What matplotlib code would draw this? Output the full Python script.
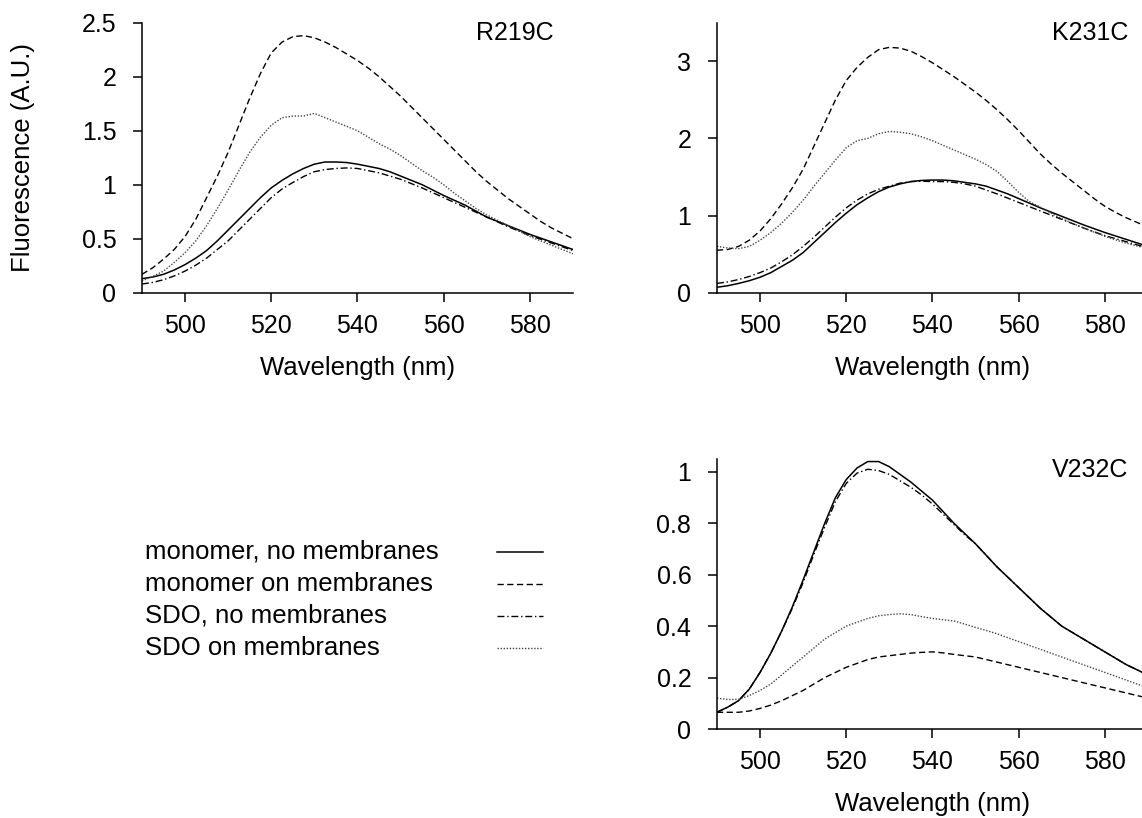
import numpy as np
import matplotlib
matplotlib.use("Agg")
import matplotlib.pyplot as plt
from matplotlib.lines import Line2D

plt.rcParams['font.family'] = ['Liberation Sans', 'DejaVu Sans']

# wavelength grid (nm), every 2.5 nm from 490 to 590
wl = np.arange(490, 590.1, 2.5)

# R219C
r219_mono = [0.13, 0.145, 0.17, 0.21, 0.26, 0.32, 0.39, 0.48, 0.58, 0.68,
             0.78, 0.88, 0.97, 1.04, 1.10, 1.15, 1.19, 1.21, 1.21, 1.205,
             1.19, 1.17, 1.15, 1.12, 1.08, 1.04, 1.00, 0.95, 0.90, 0.855,
             0.81, 0.755, 0.70, 0.66, 0.62, 0.58, 0.54, 0.505, 0.47, 0.435, 0.40]
r219_mono_mem = [0.17, 0.23, 0.31, 0.40, 0.52, 0.68, 0.88, 1.08, 1.30, 1.55,
                 1.80, 2.03, 2.22, 2.32, 2.37, 2.38, 2.36, 2.32, 2.27, 2.21,
                 2.15, 2.08, 2.00, 1.91, 1.82, 1.72, 1.62, 1.52, 1.42, 1.32,
                 1.22, 1.12, 1.03, 0.95, 0.87, 0.80, 0.73, 0.66, 0.60, 0.55, 0.50]
r219_sdo = [0.08, 0.095, 0.12, 0.155, 0.20, 0.255, 0.32, 0.40, 0.48, 0.58,
            0.68, 0.78, 0.88, 0.96, 1.02, 1.075, 1.12, 1.14, 1.15, 1.155,
            1.15, 1.13, 1.11, 1.08, 1.05, 1.01, 0.97, 0.925, 0.88, 0.835,
            0.79, 0.745, 0.70, 0.655, 0.61, 0.57, 0.53, 0.495, 0.46, 0.425, 0.39]
r219_sdo_mem = [0.11, 0.15, 0.20, 0.28, 0.37, 0.48, 0.62, 0.78, 0.95, 1.13,
                1.30, 1.44, 1.55, 1.62, 1.635, 1.635, 1.66, 1.62, 1.58, 1.54,
                1.50, 1.44, 1.38, 1.33, 1.27, 1.20, 1.13, 1.07, 1.00, 0.92,
                0.85, 0.78, 0.72, 0.67, 0.62, 0.57, 0.52, 0.48, 0.44, 0.40, 0.36]

# K231C
k231_mono = [0.07, 0.09, 0.12, 0.155, 0.20, 0.26, 0.34, 0.42, 0.52, 0.65,
             0.78, 0.91, 1.03, 1.14, 1.23, 1.31, 1.37, 1.41, 1.44, 1.455,
             1.46, 1.46, 1.45, 1.43, 1.41, 1.38, 1.33, 1.28, 1.22, 1.16,
             1.10, 1.045, 0.99, 0.935, 0.88, 0.83, 0.78, 0.735, 0.69, 0.645, 0.60]
k231_mono_mem = [0.55, 0.56, 0.60, 0.68, 0.80, 0.96, 1.15, 1.36, 1.60, 1.90,
                 2.20, 2.50, 2.75, 2.92, 3.05, 3.15, 3.18, 3.17, 3.13, 3.06,
                 2.98, 2.89, 2.80, 2.70, 2.60, 2.49, 2.37, 2.24, 2.10, 1.95,
                 1.80, 1.67, 1.55, 1.44, 1.33, 1.22, 1.12, 1.04, 0.97, 0.91, 0.85]
k231_sdo = [0.12, 0.14, 0.17, 0.21, 0.26, 0.32, 0.40, 0.49, 0.60, 0.72,
            0.85, 0.98, 1.10, 1.20, 1.28, 1.34, 1.38, 1.42, 1.44, 1.445,
            1.44, 1.44, 1.43, 1.41, 1.38, 1.33, 1.28, 1.225, 1.17, 1.115,
            1.06, 1.005, 0.95, 0.895, 0.84, 0.79, 0.74, 0.70, 0.66, 0.62, 0.58]
k231_sdo_mem = [0.60, 0.58, 0.57, 0.60, 0.68, 0.78, 0.90, 1.04, 1.20, 1.38,
                1.55, 1.72, 1.88, 1.97, 2.00, 2.06, 2.09, 2.08, 2.06, 2.02,
                1.97, 1.91, 1.85, 1.79, 1.73, 1.66, 1.57, 1.44, 1.30, 1.18,
                1.11, 1.03, 0.96, 0.90, 0.84, 0.785, 0.73, 0.685, 0.64, 0.605, 0.57]

# V232C
v232_mono = [0.065, 0.085, 0.11, 0.155, 0.22, 0.295, 0.38, 0.475, 0.58, 0.69,
             0.80, 0.90, 0.97, 1.015, 1.04, 1.04, 1.02, 0.99, 0.96, 0.925,
             0.89, 0.845, 0.80, 0.76, 0.72, 0.675, 0.63, 0.59, 0.55, 0.51,
             0.47, 0.435, 0.40, 0.375, 0.35, 0.325, 0.30, 0.275, 0.25, 0.23, 0.21]
v232_mono_mem = [0.065, 0.065, 0.065, 0.07, 0.08, 0.093, 0.11, 0.13, 0.15, 0.175,
                 0.20, 0.22, 0.24, 0.255, 0.27, 0.28, 0.285, 0.29, 0.295, 0.298,
                 0.30, 0.296, 0.29, 0.285, 0.28, 0.27, 0.26, 0.25, 0.24, 0.23,
                 0.22, 0.21, 0.20, 0.19, 0.18, 0.17, 0.16, 0.15, 0.14, 0.13, 0.12]
v232_sdo = [0.065, 0.085, 0.11, 0.155, 0.22, 0.295, 0.38, 0.47, 0.57, 0.68,
            0.785, 0.885, 0.955, 0.995, 1.01, 1.005, 0.99, 0.965, 0.94, 0.91,
            0.875, 0.835, 0.795, 0.755, 0.72, 0.675, 0.63, 0.59, 0.55, 0.51,
            0.47, 0.435, 0.40, 0.375, 0.35, 0.325, 0.30, 0.275, 0.25, 0.23, 0.21]
v232_sdo_mem = [0.12, 0.115, 0.115, 0.13, 0.15, 0.175, 0.21, 0.245, 0.28, 0.315,
                0.35, 0.375, 0.40, 0.415, 0.43, 0.44, 0.445, 0.448, 0.445, 0.437,
                0.43, 0.425, 0.42, 0.408, 0.395, 0.383, 0.37, 0.355, 0.34, 0.325,
                0.31, 0.295, 0.28, 0.265, 0.25, 0.235, 0.22, 0.205, 0.19, 0.175, 0.16]

labels = ['monomer, no membranes', 'monomer on membranes',
          'SDO, no membranes', 'SDO on membranes']
styles = [dict(ls='-', lw=1.1, color='black'),
          dict(ls=(0, (4.5, 2.5)), lw=1.0, color='black'),
          dict(ls=(0, (5, 2, 1, 2)), lw=1.0, color='black'),
          dict(ls=(0, (1, 1.2)), lw=1.0, color='#444444')]

panels = [
    ('R219C', [r219_mono, r219_mono_mem, r219_sdo, r219_sdo_mem], 2.5,
     [0, 0.5, 1, 1.5, 2, 2.5], ['0', '0.5', '1', '1.5', '2', '2.5']),
    ('K231C', [k231_mono, k231_mono_mem, k231_sdo, k231_sdo_mem], 3.5,
     [0, 1, 2, 3], ['0', '1', '2', '3']),
    ('V232C', [v232_mono, v232_mono_mem, v232_sdo, v232_sdo_mem], 1.05,
     [0, 0.2, 0.4, 0.6, 0.8, 1], ['0', '0.2', '0.4', '0.6', '0.8', '1']),
]
positions = [[0.1243, 0.6422, 0.3774, 0.3301],
             [0.6278, 0.6422, 0.3774, 0.3301],
             [0.6278, 0.1088, 0.3774, 0.3301]]

fig = plt.figure(figsize=(11.42, 8.18), dpi=100)

for (name, series, ytop, yt, ytl), pos in zip(panels, positions):
    ax = fig.add_axes(pos)
    for s, st in zip(series, styles):
        ax.plot(wl, s, **st)
    ax.set_xlim(490, 590)
    ax.set_ylim(0, ytop)
    ax.set_xticks([500, 520, 540, 560, 580])
    ax.set_yticks(yt)
    ax.set_yticklabels(ytl)
    for sp in ['top', 'right']:
        ax.spines[sp].set_visible(False)
    for sp in ['left', 'bottom']:
        ax.spines[sp].set_linewidth(1.1)
    ax.tick_params(direction='out', length=6.5, width=1.1, labelsize=18)
    ax.tick_params(axis='x', pad=8.5)
    ax.tick_params(axis='y', pad=12)
    ax.set_xlabel('Wavelength (nm)', fontsize=18.5)
    ax.xaxis.set_label_coords(0.5, -0.233)
    ax.text(0.955, 0.96, name, transform=ax.transAxes, ha='right', va='center',
            fontsize=18)

fig.text(23 / 1142, 1 - 157.7 / 818, 'Fluorescence (A.U.)', rotation=90,
         ha='center', va='center', fontsize=18.5)

# legend drawn in figure pixel coordinates
lax = fig.add_axes([0, 0, 1, 1])
lax.set_xlim(0, 1142)
lax.set_ylim(818, 0)
lax.axis('off')
for i, (lab, st) in enumerate(zip(labels, styles)):
    yy = 552 + 32 * i
    lax.text(145, yy, lab, ha='left', va='center', fontsize=18.5)
    lax.add_line(Line2D([497, 543], [yy, yy], **st))

fig.savefig('out.png', dpi=100)
